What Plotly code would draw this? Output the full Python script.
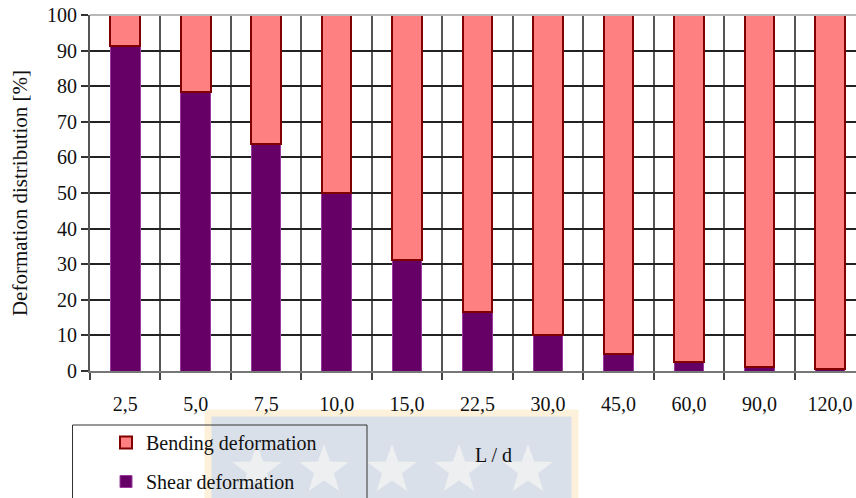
import math
import plotly.graph_objects as go

# L/d ratios and share of each deformation type [%]
ratios = ["2,5", "5,0", "7,5", "10,0", "15,0", "22,5", "30,0", "45,0", "60,0", "90,0", "120,0"]
shear = [91.2, 78.5, 63.8, 50.1, 31.2, 16.5, 10.1, 4.8, 2.4, 1.1, 0.7]
bending = [round(100 - s, 1) for s in shear]

W, H = 856, 498
L, R, T, B = 90, 0, 15, 127
FONT = "Liberation Serif"


def px(x):
    return (x - L) / (W - L - R)


def py(y):
    return (H - B - y) / (H - B - T)


def star_path(cx, cy, r_out, r_in):
    pts = []
    for k in range(10):
        r = r_out if k % 2 == 0 else r_in
        a = -math.pi / 2 + k * math.pi / 5
        pts.append((px(cx + r * math.cos(a)), py(cy + r * math.sin(a))))
    return "M " + " L ".join(f"{x:.5f},{y:.5f}" for x, y in pts) + " Z"


fig = go.Figure()
fig.add_trace(go.Bar(
    x=ratios, y=shear, name="Shear deformation",
    marker=dict(color="#660066", line=dict(color="#9a3a9e", width=1)),
    width=0.42, legendgroup="s", legendrank=2,
))
fig.add_trace(go.Bar(
    x=ratios, y=bending, name="Bending deformation",
    marker=dict(color="#ff8080", line=dict(color="#800000", width=2)),
    width=0.42, legendgroup="b", legendrank=1,
))

shapes = [
    # watermark panel
    dict(type="rect", xref="paper", yref="paper", layer="below",
         x0=px(208), x1=px(575), y0=py(413), y1=py(520),
         fillcolor="#d9e0e9", line=dict(color="#fdf1dc", width=7)),
]
for cx in [257, 324, 392, 459, 528]:
    shapes.append(dict(type="path", xref="paper", yref="paper", layer="below",
                       path=star_path(cx, 470, 26, 10.5),
                       fillcolor="#eeeff1", line=dict(width=0)))
# legend frame
shapes.append(dict(type="rect", xref="paper", yref="paper",
                   x0=px(72.5), x1=px(367), y0=py(425), y1=py(520),
                   line=dict(color="#333333", width=1)))
# top border of the plot
shapes.append(dict(type="line", xref="paper", yref="paper",
                   x0=0, x1=1, y0=1, y1=1, line=dict(color="#b8b8b8", width=2)))

fig.update_layout(
    width=W, height=H,
    margin=dict(l=L, r=R, t=T, b=B, pad=0, autoexpand=False),
    paper_bgcolor="white", plot_bgcolor="white",
    barmode="stack",
    font=dict(family=FONT, size=20, color="#111111"),
    shapes=shapes,
    showlegend=True,
    legend=dict(
        x=px(106), y=py(423), xanchor="left", yanchor="top",
        bgcolor="rgba(0,0,0,0)", borderwidth=0,
        traceorder="grouped", tracegroupgap=10,
        font=dict(family=FONT, size=20, color="#111111"),
    ),
    annotations=[dict(text="L / d", xref="paper", yref="paper",
                      x=px(493), y=py(455), xanchor="center", yanchor="middle",
                      showarrow=False,
                      font=dict(family=FONT, size=20, color="#111111"))],
    xaxis=dict(
        type="category", range=[-0.5, 10.37],
        tickson="boundaries", ticks="outside", ticklen=7, tickwidth=2,
        tickcolor="#444444",
        showgrid=True, gridcolor="#555555", gridwidth=2,
        showline=True, linecolor="#777777", linewidth=2,
        ticklabelstandoff=14,
        tickfont=dict(family=FONT, size=20, color="#111111"),
    ),
    yaxis=dict(
        range=[0, 100], dtick=10, tick0=0,
        ticks="outside", ticklen=7, tickwidth=2, tickcolor="#333333",
        showgrid=True, gridcolor="#222222", gridwidth=1.5,
        showline=True, linecolor="#555555", linewidth=2,
        zeroline=False,
        tickfont=dict(family=FONT, size=20, color="#111111"),
        title=dict(text="Deformation distribution [%]", standoff=14,
                   font=dict(family=FONT, size=21, color="#111111")),
    ),
)

fig.write_html("out.html")
